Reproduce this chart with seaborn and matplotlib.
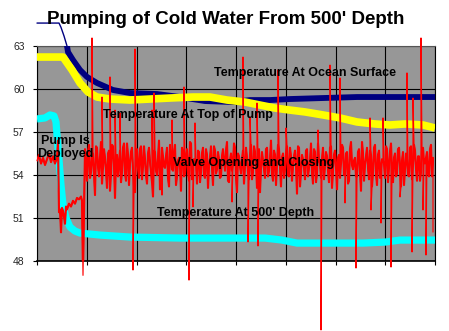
import numpy as np
import pandas as pd
import matplotlib
matplotlib.use("Agg")
import matplotlib.pyplot as plt
import seaborn as sns

# ---------------- data ----------------
title = "Pumping of Cold Water From 500' Depth"
y_ticks = [48, 51, 54, 57, 60, 63]

# Temperature at ocean surface (navy)
surface_x = [0, 22, 24, 27, 30, 31, 36, 43, 50, 60, 76, 93, 120, 143, 168, 196, 213, 233, 253, 286, 320, 363, 398]
surface_v = [64.6, 64.6, 64.3, 63.7, 63.0, 62.58, 62.02, 61.33, 60.84, 60.42, 59.93, 59.72, 59.65, 59.44,
             59.16, 59.09, 59.23, 59.23, 59.30, 59.37, 59.44, 59.44, 59.44]

# Temperature at top of pump (yellow)
top_x = [0, 26, 35, 43, 51, 60, 73, 93, 113, 133, 156, 173, 190, 208, 223, 238, 253, 268, 286, 303,
         320, 338, 353, 368, 386, 398]
top_v = [62.23, 62.23, 61.33, 60.42, 59.79, 59.44, 59.30, 59.23, 59.30, 59.37, 59.44, 59.44, 59.23,
         59.09, 58.88, 58.67, 58.53, 58.40, 58.19, 57.98, 57.70, 57.56, 57.49, 57.56, 57.49, 57.28]

# Temperature at 500' depth (cyan)
deep_x = [0, 8, 13, 17, 19, 20, 22, 24, 26, 29, 33, 38, 43, 63, 93, 143, 193, 228, 245, 260, 293,
          326, 348, 363, 383, 398]
deep_v = [57.91, 57.98, 58.19, 58.12, 57.70, 56.79, 55.05, 53.30, 51.91, 51.00, 50.37, 50.09, 49.95,
          49.81, 49.67, 49.60, 49.60, 49.60, 49.46, 49.25, 49.25, 49.25, 49.32, 49.46, 49.46, 49.46]

# Valve opening and closing (red) - before deployment
valve_pre_x = [0, 2, 4, 6, 8, 10, 12, 14, 16, 18, 20, 21, 22, 23, 24, 25, 26, 28, 29, 30, 32, 34,
               36, 38, 40, 42, 44, 45, 46]
valve_pre_v = [55.0, 55.4, 54.8, 55.2, 54.7, 55.1, 55.5, 54.9, 55.3, 54.8, 55.2, 56.4, 51.4, 51.6,
               50.0, 51.7, 51.5, 50.6, 51.8, 51.6, 52.0, 51.8, 52.2, 52.0, 52.4, 52.3, 52.5, 52.2, 47.0]

# Valve band, readings at even positions 48..396
valve_even_v = [
    55.8, 53.6, 56.1, 54.2, 55.5, 52.6, 55.9, 53.9, 56.3, 54.5,
    55.2, 53.1, 55.7, 54.0, 56.0, 52.4, 55.4, 54.8, 53.5, 55.9,
    54.1, 56.2, 53.3, 55.6, 54.4, 52.8, 55.8, 53.8, 56.0, 54.6,
    55.1, 53.4, 55.9, 54.2, 52.5, 55.6, 54.0, 56.4, 53.7, 55.3,
    54.5, 55.9, 53.2, 55.5, 54.3, 56.1, 53.9, 55.2, 52.9, 55.7,
    54.1, 55.8, 53.6, 56.2, 54.7, 55.0, 53.4, 55.6, 54.2, 55.9,
    53.8, 55.4, 54.6, 56.0, 53.3, 55.7, 54.4, 55.1, 53.9, 55.8,
    54.3, 56.3, 53.5, 55.5, 54.8, 55.9, 52.8, 55.3, 54.1, 55.7,
    54.6, 55.2, 53.7, 56.1, 54.2, 55.6, 53.1, 55.8, 54.5, 55.0,
    53.8, 55.9, 54.3, 56.4, 53.6, 55.4, 54.7, 55.8, 53.2, 55.5,
    54.4, 56.0, 53.9, 55.3, 54.6, 55.7, 52.7, 55.9, 54.2, 55.1,
    53.7, 55.8, 54.5, 56.2, 53.4, 55.6, 54.1, 55.0, 53.8, 55.9,
    54.6, 55.3, 53.5, 56.0, 54.3, 55.7, 53.0, 55.4, 54.8, 55.9,
    54.0, 55.6, 53.6, 56.3, 54.4, 55.2, 53.9, 55.8, 52.9, 55.5,
    54.7, 55.9, 53.7, 55.4, 54.2, 56.1, 53.3, 55.7, 54.5, 55.0,
    53.8, 55.8, 54.6, 56.2, 53.5, 55.5, 54.1, 55.9, 53.2, 55.6,
    54.4, 55.1, 53.9, 56.0, 54.7, 55.7, 53.6, 55.3, 54.2, 55.9,
    54.8, 55.6, 53.9, 56.1, 55.2,
]
valve_even_x = list(range(48, 397, 2))

# Valve band, readings at odd positions 49..395
valve_odd_v = [
    54.9, 55.6, 53.8, 55.3, 54.1, 56.0, 54.6, 55.2, 53.4, 55.8,
    54.3, 55.5, 52.9, 56.1, 54.7, 55.0, 53.9, 55.7, 54.2, 56.2,
    53.6, 55.4, 54.8, 55.9, 53.2, 55.1, 54.5, 55.8, 53.7, 56.0,
    54.0, 55.5, 54.9, 53.5, 55.7, 54.3, 55.2, 53.0, 55.9, 54.6,
    55.3, 53.8, 56.1, 54.4, 55.6, 53.3, 55.0, 54.7, 55.9, 53.9,
    55.4, 54.2, 56.3, 53.7, 55.1, 54.8, 55.7, 53.5, 55.5, 54.0,
    55.8, 53.1, 55.2, 54.5, 56.0, 54.1, 55.6, 53.8, 55.3, 54.9,
    55.7, 53.6, 55.0, 54.3, 56.2, 53.9, 55.5, 54.6, 55.1, 53.4,
    55.9, 54.2, 55.4, 53.7, 56.0, 54.8, 55.3, 52.8, 55.6, 54.4,
    55.8, 53.9, 55.1, 54.1, 55.7, 53.3, 56.1, 54.6, 55.2, 53.8,
    55.5, 54.0, 55.9, 53.6, 55.3, 54.7, 56.0, 53.2, 55.4, 54.5,
    55.7, 53.9, 55.0, 54.2, 55.8, 53.5, 56.2, 54.8, 55.1, 53.7,
    55.6, 54.3, 55.9, 53.1, 55.4, 54.6, 55.2, 53.8, 56.1, 54.0,
    55.5, 53.4, 55.8, 54.7, 55.0, 53.9, 55.6, 54.2, 56.3, 53.6,
    55.3, 54.5, 55.7, 53.2, 55.9, 54.1, 55.4, 53.8, 55.1, 54.8,
    56.0, 53.5, 55.6, 54.3, 55.2, 53.9, 55.8, 54.6, 55.0, 53.3,
    55.5, 54.0, 55.9, 53.7, 56.1, 54.4, 55.3, 53.6, 55.7, 54.9,
    55.2, 54.1, 55.8, 53.9,
]
valve_odd_x = list(range(49, 396, 2))

# Valve spikes
spike_x = [55, 65, 73, 78, 83, 98, 115, 117, 135, 147, 158, 206, 213, 220, 241, 249, 281, 293, 303,
           333, 346, 370, 376, 384,
           96, 125, 152, 156, 195, 211, 221, 284, 308, 319, 334, 344, 354, 363, 375, 386, 389, 396]
spike_v = [63.56, 59.44, 60.84, 58.53, 58.33, 62.79, 58.53, 59.72, 57.84, 60.14, 57.63, 62.23, 58.05,
           59.02, 61.33, 57.28, 57.14, 61.67, 60.77, 57.98, 57.98, 61.12, 59.37, 63.56,
           47.37, 52.60, 46.67, 51.77, 52.12, 49.33, 49.05, 43.19, 52.05, 47.51, 51.56, 50.65, 47.58,
           52.47, 48.63, 51.56, 48.42, 50.02]

labels = {
    "Temperature At Ocean Surface": (177, 61.12, "left"),
    "Temperature At Top of Pump": (66, 58.19, "left"),
    "Pump Is\nDeployed": (28, 55.92, "center"),
    "Valve Opening and Closing": (136, 54.84, "left"),
    "Temperature At 500' Depth": (120, 51.35, "left"),
}

# ---------------- build tables ----------------
surface = pd.DataFrame({"x": surface_x, "v": surface_v})
top = pd.DataFrame({"x": top_x, "v": top_v})
deep = pd.DataFrame({"x": deep_x, "v": deep_v})
band = pd.concat([
    pd.DataFrame({"x": valve_pre_x, "v": valve_pre_v}),
    pd.DataFrame({"x": valve_even_x, "v": valve_even_v}),
    pd.DataFrame({"x": valve_odd_x, "v": valve_odd_v}),
]).sort_values("x", kind="stable").reset_index(drop=True)
valve = pd.concat([band, pd.DataFrame({"x": spike_x, "v": spike_v})]
                  ).sort_values("x", kind="stable").reset_index(drop=True)

# ---------------- style ----------------
sns.set_style("white")
plt.rcParams["font.family"] = ["Liberation Sans", "DejaVu Sans"]

fig = plt.figure(figsize=(4.49, 3.31), dpi=100)
ax = fig.add_axes([37 / 449, 1 - 261 / 331, 398 / 449, 215 / 331])
ax.set_facecolor("#979797")

# surface: thin outside, thick inside
sns.lineplot(data=surface, x="x", y="v", ax=ax, color="#000080", lw=1.0, sort=False,
             estimator=None, clip_on=False, zorder=2)
sns.lineplot(data=surface, x="x", y="v", ax=ax, color="#000080", lw=4.2, sort=False,
             estimator=None, zorder=3, solid_capstyle="butt")
sns.lineplot(data=top, x="x", y="v", ax=ax, color="#FFFF00", lw=5.5, sort=False,
             estimator=None, zorder=4, solid_capstyle="butt")
sns.lineplot(data=deep, x="x", y="v", ax=ax, color="#00FFFF", lw=5.2, sort=False,
             estimator=None, zorder=5, solid_capstyle="butt")
sns.lineplot(data=band, x="x", y="v", ax=ax, color="#FF0000", lw=1.5, sort=False,
             estimator=None, zorder=6)
sns.lineplot(data=valve, x="x", y="v", ax=ax, color="#FF0000", lw=0.85, sort=False,
             estimator=None, zorder=7, clip_on=False)

ax.set_xlim(0, 398)
ax.set_ylim(48, 63)
ax.set_xticks(np.linspace(0, 398, 9))
ax.set_xticklabels([])
ax.set_yticks(y_ticks)
ax.set_yticklabels([str(t) for t in y_ticks], fontsize=7.5)
ax.set_xlabel("")
ax.set_ylabel("")
ax.grid(True, color="black", lw=0.8)
ax.set_axisbelow(True)
ax.tick_params(axis="both", direction="out", length=3, width=0.8, color="black",
               left=True, bottom=True, pad=6)
for side in ["left", "bottom", "right", "top"]:
    ax.spines[side].set_visible(True)
    ax.spines[side].set_color("black")
    ax.spines[side].set_linewidth(0.8)
ax.spines["top"].set_color("#555555")
ax.spines["bottom"].set_linewidth(1.2)

for txt, (tx, ty, ha) in labels.items():
    ax.text(tx, ty, txt, ha=ha, va="center", fontsize=9.0, fontweight="bold",
            color="black", zorder=10, linespacing=1.15)

fig.text(226 / 449, 1 - 20 / 331, title, ha="center", va="center", fontsize=13.5,
         fontweight="bold", color="black")

fig.savefig("out.png", dpi=100)
